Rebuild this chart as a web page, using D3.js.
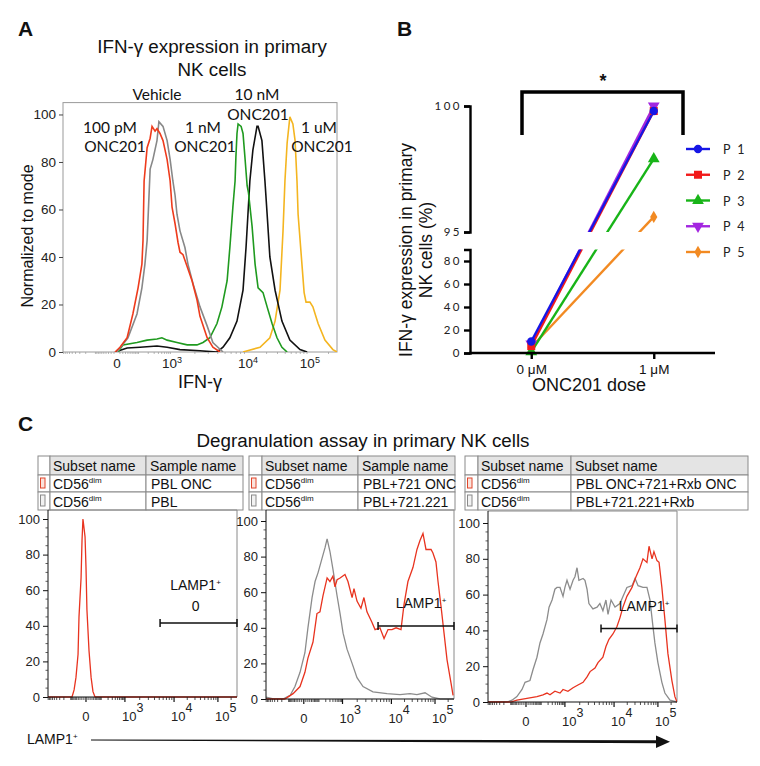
<!DOCTYPE html>
<html><head><meta charset="utf-8">
<script src="https://cdn.jsdelivr.net/npm/d3@7"></script>
<style>html,body{margin:0;padding:0;background:#fff;overflow:hidden}svg{display:block}</style>
</head><body>
<svg id="c" width="760" height="766"></svg>
<script>
// ---------------- DATA ----------------
// Panel A: histograms, x in display channel units (0-1000), y in % of mode
const aRed=[[190,0],[208,2],[234,6],[255,16],[274,27],[288,37],[292,47],[296,72],[307,86],[318,90],[325,95],[336,93],[343,94],[354,92],[365,89],[380,81],[391,72],[398,61],[409,54],[420,46],[427,42],[438,41],[453,36],[471,30],[489,22],[500,15],[526,6],[547,2],[573,0]];
const aGray=[[197,0],[237,6],[270,16],[288,27],[299,37],[307,47],[318,77],[328,81],[343,89],[350,97],[365,95],[380,89],[391,81],[401,72],[409,66],[416,58],[427,51],[445,44],[456,37],[474,29],[500,19],[526,11],[547,4],[584,0]];
const aGreen=[[201,0],[219,3],[270,4],[307,5],[343,5.5],[361,6],[380,5],[416,4],[453,3],[489,3],[511,4],[536,6],[562,12],[580,19],[599,30],[609,44],[620,61],[628,72],[631,82],[635,92],[639,96],[650,95],[657,92],[664,82],[672,70],[677,67],[690,53],[701,37],[712,27],[730,25],[745,19],[763,12],[781,6],[799,2],[818,0]];
const aBlack=[[190,0],[234,1.7],[281,2],[343,2.5],[380,2],[427,1],[500,0.5],[562,0],[584,2],[609,6],[635,13],[657,26],[668,44],[675,58],[682,72],[693,85],[708,95],[712,95],[726,89],[737,72],[745,58],[755,40],[774,26],[799,13],[828,5],[865,1],[891,0]];
const aYellow=[[657,0],[719,2],[755,6],[774,13],[792,26],[803,51],[810,72],[818,88],[828,99],[839,96],[847,89],[854,72],[858,58],[872,37],[880,25],[887,21],[901,21],[912,19],[931,12],[956,5],[985,1],[1000,0]];
const aYTicks=[0,20,40,60,80,100];
const aXTickCh=[197,398,675,901];
const aXTickExp=[null,3,4,5];

// Panel B: IFN-gamma % at 0 uM and 1 uM
const bDoses=["0 \u03BCM","1 \u03BCM"];
const bNames=["P 1","P 2","P 3","P 4","P 5"];
const bP1=[10,99.8];
const bP2=[6,99.8];
const bP3=[1,97.9];
const bP4=[8,100];
const bP5=[5,95.6];
const bLowTicks=[0,20,40,60,80];
const bUpTicks=[95,100];

// Panel C: tables and LAMP1 histograms
const cTableHead1=["Subset name","Sample name"];
const cTableHead3=["Subset name","Subset name"];
const cSubsets=["CD56","CD56"];
const cSamples1=["PBL ONC","PBL"];
const cSamples2=["PBL+721 ONC","PBL+721.221"];
const cSamples3=["PBL ONC+721+Rxb ONC","PBL+721.221+Rxb"];
const c1Red=[[0,0],[127,0],[138,4],[148,11],[159,24],[164,45],[175,67],[180,88],[185,100],[196,90],[201,73],[206,49],[217,26],[228,11],[238,3],[249,0],[1000,0]];
const c2Gray=[[0,1],[40,0],[90,0],[128,2],[154,7],[181,15],[207,26],[223,40],[245,57],[261,66],[277,71],[298,79],[314,85],[325,90],[340,83],[356,73],[378,58],[394,48],[410,37],[431,28],[458,20],[484,12],[516,7],[569,4],[644,3],[713,2.5],[766,3],[803,2.5],[846,3.5],[883,1],[926,0],[1000,0]];
const c2Red=[[0,0],[100,0],[144,3],[181,7],[207,15],[223,23],[250,32],[271,48],[287,49],[303,58],[325,68],[340,66],[356,69],[367,63],[378,67],[394,68],[420,70],[436,66],[458,57],[468,62],[484,55],[505,51],[521,57],[537,49],[564,43],[580,39],[606,40],[628,34],[649,39],[670,39],[692,40],[718,39],[734,53],[755,66],[782,74],[803,84],[819,89],[835,93],[851,84],[862,84],[878,84],[888,82],[904,77],[915,66],[931,52],[947,37],[963,22],[984,9],[995,2]];
const c3Gray=[[0,0],[101,0],[127,1],[153,3],[180,7],[196,11],[222,12],[238,18],[259,25],[275,33],[291,38],[312,46],[323,53],[339,57],[354,63],[365,64],[381,64],[397,59],[407,64],[418,68],[434,63],[450,68],[460,70],[471,75],[481,68],[503,69],[513,68],[524,63],[534,55],[555,52],[577,53],[592,55],[608,51],[624,57],[635,49],[651,57],[672,53],[698,55],[714,59],[735,64],[762,65],[778,69],[794,65],[820,64],[841,64],[857,57],[873,42],[883,33],[899,22],[920,11],[936,5],[963,1],[1000,0]];
const c3Red=[[0,0],[120,0],[153,1],[206,2],[259,3],[291,4],[312,5],[328,4],[354,6],[381,5],[397,7],[423,6],[450,8],[476,9.5],[503,11],[524,14],[540,17],[566,19],[582,22],[608,25],[624,31],[640,35],[661,38],[682,42],[698,47],[714,53],[735,59],[762,64],[783,70],[804,75],[820,80],[841,78],[852,87],[868,80],[878,84],[894,79],[905,78],[920,64],[936,46],[952,27],[973,12],[989,3],[1000,0]];
const cGateStart=[593,596,598];
const cGateLevel=[41.6,41,41];
const cGateValue=["0",null,null];
const cYTicks=[0,20,40,60,80,100];
const cXTickCh=[201,407,667,899];
const cXTickExp=[null,3,4,5];

// ---------------- DRAW ----------------
const svg=d3.select("#c");
const F="'Liberation Sans', Arial, Helvetica, sans-serif";
const CAL="Lato, 'Open Sans', sans-serif";
const defs=svg.append("defs");

function txt(g,x,y,s,opt={}){
  return g.append("text").attr("x",x).attr("y",y).text(s)
    .attr("font-family",opt.ff||F).attr("font-size",opt.fs||14)
    .attr("font-weight",opt.fw||"normal").attr("text-anchor",opt.anchor||"start")
    .attr("fill",opt.fill||"#111");
}

// ===== Panel A =====
const A=svg.append("g");
txt(A,18,36,"A",{fs:21,fw:"bold"});
txt(A,212,53,"IFN-\u03B3 expression in primary",{fs:18.8,anchor:"middle"});
txt(A,212,76,"NK cells",{fs:18.8,anchor:"middle"});
const aX=d3.scaleLinear().domain([0,1000]).range([63,337]);
const aY=d3.scaleLinear().domain([0,105]).range([352,102.6]);
defs.append("clipPath").attr("id","clipA").append("rect")
  .attr("x",aX(0)).attr("y",aY(105)).attr("width",aX(1000)-aX(0)).attr("height",aY(0)-aY(105));
A.append("rect").attr("x",aX(0)).attr("y",aY(105)).attr("width",aX(1000)-aX(0)).attr("height",aY(0)-aY(105))
  .attr("fill","none").attr("stroke","#9a9a9a").attr("stroke-width",1);
const aLine=d3.line().x(d=>aX(d[0])).y(d=>aY(d[1]));
const aCurves=[[aYellow,"#f4b520"],[aBlack,"#111"],[aGreen,"#1f9a1f"],[aGray,"#888"],[aRed,"#ee3b1c"]];
const aG=A.append("g").attr("clip-path","url(#clipA)");
aCurves.forEach(([d,c])=>aG.append("path").attr("d",aLine(d)).attr("fill","none").attr("stroke",c).attr("stroke-width",1.6));
// y axis
const aYAx=A.append("g").attr("transform",`translate(${aX(0)},0)`)
  .call(d3.axisLeft(aY).tickValues(aYTicks).tickSize(4).tickPadding(3));
aYAx.select(".domain").remove();
aYAx.selectAll("text").attr("font-family",F).attr("font-size",13.5).attr("fill","#222");
aYAx.selectAll("line").attr("stroke","#444");
// minor x ticks (biexponential)
function minorTicks(c0,c3,c4,c5){
  const out=[];const w=50, n=Math.asinh(1000/w);
  for(let v=10;v<100;v+=10){out.push([c0+(c3-c0)*Math.asinh(v/w)/n,2]);out.push([c0-(c3-c0)*Math.asinh(v/w)/n,2]);}
  for(let v=100;v<1000;v+=100){out.push([c0+(c3-c0)*Math.asinh(v/w)/n,2]);out.push([c0-(c3-c0)*Math.asinh(v/w)/n,2]);}
  for(let k=2;k<10;k++){out.push([c3+(c4-c3)*Math.log10(k),2]);out.push([c4+(c5-c4)*Math.log10(k),2]);out.push([c5+(c5-c4)*Math.log10(k),2]);}
  return out.filter(t=>t[0]>=0&&t[0]<=1000);
}
A.append("g").selectAll("line").data(minorTicks(aXTickCh[0],aXTickCh[1],aXTickCh[2],aXTickCh[3])).join("line")
  .attr("x1",d=>aX(d[0])).attr("x2",d=>aX(d[0])).attr("y1",aY(0)).attr("y2",aY(0)+2)
  .attr("stroke","#999").attr("stroke-width",0.7);
aXTickCh.forEach((ch,i)=>{
  const t=A.append("text").attr("x",aX(ch)).attr("y",aY(0)+16).attr("text-anchor","middle")
    .attr("font-family",F).attr("font-size",13.5).attr("fill","#222");
  if(aXTickExp[i]==null) t.text("0");
  else{t.append("tspan").text("10");t.append("tspan").attr("dy",-5).attr("font-size",9).text(aXTickExp[i]);}
});
txt(A,200,388,"IFN-\u03B3",{fs:18,anchor:"middle"});
txt(A,0,0,"Normalized to mode",{fs:16,anchor:"middle"}).attr("transform","translate(33,236) rotate(-90)");
// annotations
const aNotes=[["Vehicle",157,100],["10 nM",257,100],["ONC201",258,120],["100 pM",110,133],["ONC201",115,152],["1 nM",203,133],["ONC201",205,152],["1 uM",319,133],["ONC201",322,152]];
aNotes.forEach(n=>txt(A,n[1],n[2],n[0],{ff:CAL,fs:15.5,anchor:"middle"}));

// ===== Panel B =====
const B=svg.append("g");
txt(B,397,36,"B",{fs:21,fw:"bold"});
const bX=d3.scalePoint().domain(bDoses).range([470,715]).padding(0.5);
const bLow=d3.scaleLinear().domain([0,90]).range([353,249.5]);
const bUp=d3.scaleLinear().domain([95,100]).range([232,106]);
const bY=v=>v<=90?bLow(v):bUp(v);
defs.append("clipPath").attr("id","clipBU").append("rect").attr("x",471).attr("y",90).attr("width",250).attr("height",232-90);
defs.append("clipPath").attr("id","clipBL").append("rect").attr("x",471).attr("y",249.5).attr("width",250).attr("height",110);
const bSer=[bP5,bP4,bP3,bP2,bP1];
const bCol={"P 1":"#1616e6","P 2":"#f21a1a","P 3":"#18b418","P 4":"#a326e0","P 5":"#f28a22"};
const bSym={"P 1":[d3.symbolCircle,55,0],"P 2":[d3.symbolSquare,64,0],"P 3":[d3.symbolTriangle,60,0],"P 4":[d3.symbolTriangle,60,180],"P 5":[d3.symbolDiamond,45,0]};
const bOrder=["P 5","P 4","P 3","P 2","P 1"];
const bLine=d3.line().x(d=>bX(d[0])).y(d=>bY(d[1]));
bOrder.forEach((name,i)=>{
  const vals=bSer[i];const pts=bDoses.map((d,j)=>[d,vals[j]]);
  ["clipBU","clipBL"].forEach(cid=>B.append("path").attr("d",bLine(pts)).attr("clip-path",`url(#${cid})`)
    .attr("fill","none").attr("stroke",bCol[name]).attr("stroke-width",2.4));
});
bOrder.forEach((name,i)=>{
  const vals=bSer[i];const s=bSym[name];
  bDoses.forEach((d,j)=>B.append("path").attr("d",d3.symbol(s[0],s[1])())
    .attr("transform",`translate(${bX(d)},${bY(vals[j])}) rotate(${s[2]})`).attr("fill",bCol[name]));
});
// axes
function styleB(g){g.selectAll("path,line").attr("stroke","#000").attr("stroke-width",2.4);
  g.selectAll("text").attr("font-family",CAL).attr("font-size",11.5).attr("letter-spacing","2.5px").attr("fill","#222");}
B.append("g").attr("transform","translate(470,0)").call(d3.axisLeft(bLow).tickValues(bLowTicks).tickFormat(d3.format("d")).tickSize(6).tickSizeOuter(6).tickPadding(2)).call(styleB);
B.append("g").attr("transform","translate(470,0)").call(d3.axisLeft(bUp).tickValues(bUpTicks).tickFormat(d3.format("d")).tickSize(6).tickSizeOuter(6).tickPadding(2)).call(styleB);
const bXAx=B.append("g").attr("transform","translate(0,353)").call(d3.axisBottom(bX).tickSize(6).tickSizeOuter(0).tickPadding(5));
bXAx.select(".domain").attr("d","M469,0H715");
bXAx.selectAll("path,line").attr("stroke","#000").attr("stroke-width",2.4);
bXAx.selectAll("text").attr("font-family",F).attr("font-size",13.5).attr("fill","#111");
txt(B,589,391,"ONC201 dose",{fs:18,anchor:"middle"});
txt(B,0,0,"IFN-\u03B3 expression in primary",{fs:17.5,anchor:"middle"}).attr("transform","translate(412,250) rotate(-90)");
txt(B,0,0,"NK cells (%)",{fs:17.5,anchor:"middle"}).attr("transform","translate(432,250) rotate(-90)");
// significance bracket
B.append("path").attr("d","M522,135V92H683V135").attr("fill","none").attr("stroke","#000").attr("stroke-width",3.5);
txt(B,603,87,"*",{fs:18,fw:"bold",anchor:"middle"});
// legend
const legY=d3.scalePoint().domain(bNames).range([149,252]);
bNames.forEach(name=>{
  const y=legY(name);const s=bSym[name];
  B.append("line").attr("x1",686).attr("x2",710).attr("y1",y).attr("y2",y).attr("stroke",bCol[name]).attr("stroke-width",2.4);
  B.append("path").attr("d",d3.symbol(s[0],s[1])()).attr("transform",`translate(698,${y}) rotate(${s[2]})`).attr("fill",bCol[name]);
  txt(B,723,y+5,name,{ff:CAL,fs:12.5,fill:"#222"}).attr("letter-spacing","2px");
});

// ===== Panel C =====
const C=svg.append("g");
txt(C,18,431,"C",{fs:21,fw:"bold"});
txt(C,363,447,"Degranulation assay in primary NK cells",{fs:18.8,anchor:"middle"});
function drawTable(x0,widths,head,subsets,samples){
  const rowsH=[19,17,18];const y0=456;
  const g=C.append("g");
  let y=y0;
  rowsH.forEach((h,r)=>{
    let x=x0;
    widths.forEach((w,ci)=>{
      g.append("rect").attr("x",x).attr("y",y).attr("width",w).attr("height",h)
        .attr("fill",r===0&&ci>0?"#e4e4e4":"#fff").attr("stroke","#8a8a8a").attr("stroke-width",1);
      x+=w;
    });
    y+=h;
  });
  let ys=[y0,y0+rowsH[0],y0+rowsH[0]+rowsH[1]];
  txt(g,x0+widths[0]+3,ys[0]+15,head[0],{fs:14,fill:"#111"});
  txt(g,x0+widths[0]+widths[1]+4,ys[0]+15,head[1],{fs:14,fill:"#111"});
  [0,1].forEach(r=>{
    const yy=ys[r+1];const h=rowsH[r+1];
    g.append("rect").attr("x",x0+2.5).attr("y",yy+3).attr("width",4.5).attr("height",h-7)
      .attr("fill",r===0?"#fbe3dc":"#f2f2f2").attr("stroke",r===0?"#e0452a":"#8a8a8a").attr("stroke-width",1);
    const t=txt(g,x0+widths[0]+3,yy+h-3.5,"",{fs:14,fill:"#111"});
    t.append("tspan").text(subsets[r]);
    t.append("tspan").attr("dy",-6).attr("font-size",8).text("dim");
    txt(g,x0+widths[0]+widths[1]+5,yy+h-3.5,samples[r],{fs:14,fill:"#111"});
  });
}
drawTable(38,[12,96,97],cTableHead1,cSubsets,cSamples1);
drawTable(249,[13,96,97],cTableHead1,cSubsets,cSamples2);
drawTable(465,[13,93,177],cTableHead3,cSubsets,cSamples3);

const cPlots=[
  {x0:48,x1:237,y0:697,y100:519,top:510,curves:[[c1Red,"#e8331f"]]},
  {x0:266,x1:454,y0:699,y100:521,top:510,curves:[[c2Gray,"#8c8c8c"],[c2Red,"#e8331f"]]},
  {x0:488,x1:677,y0:702,y100:523,top:511,curves:[[c3Gray,"#8c8c8c"],[c3Red,"#e8331f"]]}
];
cPlots.forEach((p,i)=>{
  const g=C.append("g");
  const x=d3.scaleLinear().domain([0,1000]).range([p.x0,p.x1]);
  const y=d3.scaleLinear().domain([0,100]).range([p.y0,p.y100]);
  const cid="clipC"+i;
  defs.append("clipPath").attr("id",cid).append("rect").attr("x",p.x0).attr("y",p.top).attr("width",p.x1-p.x0).attr("height",p.y0-p.top+1);
  g.append("path").attr("d",`M${p.x0},${p.top}H${p.x1}V${p.y0}`).attr("fill","none").attr("stroke","#8a8a8a").attr("stroke-width",1);
  const line=d3.line().x(d=>x(d[0])).y(d=>y(d[1]));
  const cg=g.append("g").attr("clip-path",`url(#${cid})`);
  p.curves.forEach(([d,c])=>cg.append("path").attr("d",line(d)).attr("fill","none").attr("stroke",c).attr("stroke-width",1.3));
  // y axis
  const ya=g.append("g").attr("transform",`translate(${p.x0},0)`)
    .call(d3.axisLeft(y).tickValues(cYTicks).tickSize(5).tickPadding(3).tickSizeOuter(0));
  ya.select(".domain").attr("d",`M0,${p.top}V${p.y0}`);
  ya.selectAll("path,line").attr("stroke","#111");
  ya.selectAll("text").attr("font-family",F).attr("font-size",13).attr("fill","#222");
  g.append("g").selectAll("line").data(d3.range(5,100,5).filter(v=>v%20)).join("line")
    .attr("x1",p.x0-2.5).attr("x2",p.x0).attr("y1",d=>y(d)).attr("y2",d=>y(d)).attr("stroke","#333").attr("stroke-width",0.8);
  // x axis
  g.append("line").attr("x1",p.x0).attr("x2",p.x1).attr("y1",p.y0).attr("y2",p.y0).attr("stroke","#111").attr("stroke-width",1.2);
  g.append("g").selectAll("line").data(minorTicks(cXTickCh[0],cXTickCh[1],cXTickCh[2],cXTickCh[3])).join("line")
    .attr("x1",d=>x(d[0])).attr("x2",d=>x(d[0])).attr("y1",p.y0).attr("y2",p.y0+3).attr("stroke","#222").attr("stroke-width",0.8);
  cXTickCh.forEach((ch,k)=>{
    g.append("line").attr("x1",x(ch)).attr("x2",x(ch)).attr("y1",p.y0).attr("y2",p.y0+5).attr("stroke","#111").attr("stroke-width",1.2);
    if(cXTickExp[k]==null) txt(g,x(ch),p.y0+24,"0",{fs:13,anchor:"middle",fill:"#222"});
    else{const t=txt(g,x(ch)-3,p.y0+24,"",{fs:13,fill:"#222"});
      t.append("tspan").text("10");t.append("tspan").attr("dy",-9).attr("font-size",12.5).text(cXTickExp[k]);}
  });
  // gate
  const gy=y(cGateLevel[i]);const gx0=x(cGateStart[i]),gx1=x(1000);
  g.append("path").attr("d",`M${gx0},${gy}H${gx1}M${gx0},${gy-4}V${gy+4}M${gx1},${gy-4}V${gy+4}`)
    .attr("stroke","#111").attr("stroke-width",1.5).attr("fill","none");
  const lx=(gx0+gx1)/2+ (i===0?0:8);
  const lt=txt(g,lx-3,gy-(cGateValue[i]?33:18),"",{fs:14,anchor:"middle",fill:"#111"});
  lt.append("tspan").text("LAMP1");lt.append("tspan").attr("dy",-5).attr("font-size",8).text("+");
  if(cGateValue[i]) txt(g,lx-3,gy-12,cGateValue[i],{fs:14,anchor:"middle",fill:"#111"});
});
// bottom LAMP1 arrow
const bt=txt(C,27,744,"",{fs:14,fill:"#111"});
bt.append("tspan").text("LAMP1");bt.append("tspan").attr("dy",-5).attr("font-size",8).text("+");
C.append("path").attr("d","M91,739.5L657,740.3L657,743.2L91,740.5Z").attr("fill","#111");
C.append("path").attr("d","M656,735.5L670,741.8L656,748Z").attr("fill","#111");
</script>
</body></html>
